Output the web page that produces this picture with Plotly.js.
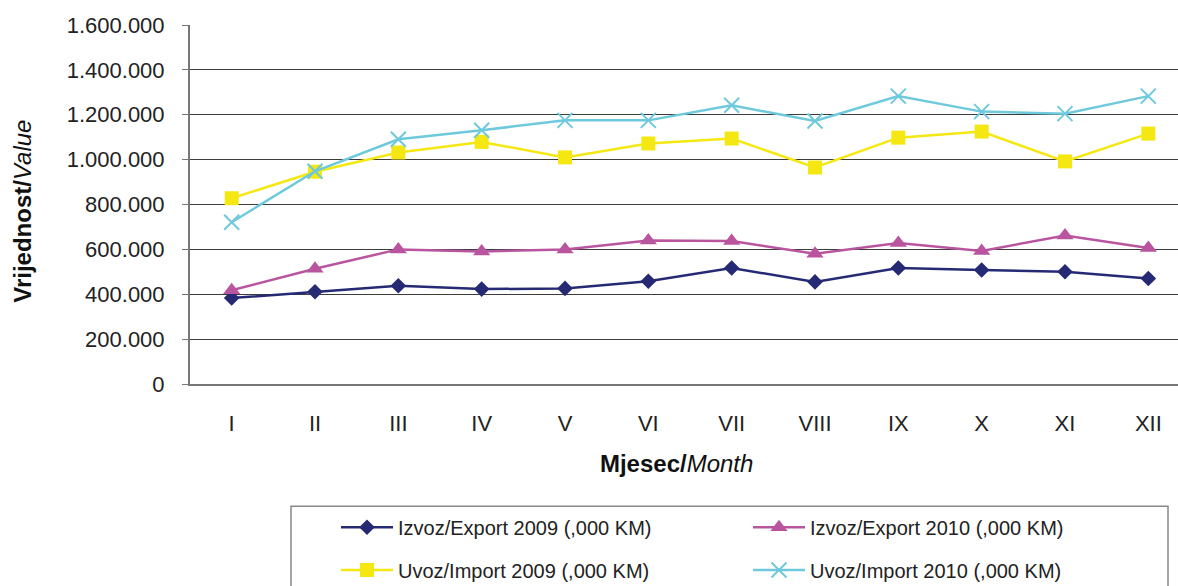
<!DOCTYPE html>
<html>
<head>
<meta charset="utf-8">
<script src="https://cdn.plot.ly/plotly-3.0.1.min.js"></script>
<style>
html, body { margin: 0; padding: 0; overflow: hidden; background: #fff; }
#chart { width: 1200px; height: 600px; }
</style>
</head>
<body>
<div id="chart"></div>
<script>
// Data (values in ,000 KM)
const months = ["I", "II", "III", "IV", "V", "VI", "VII", "VIII", "IX", "X", "XI", "XII"];
const export2009 = [383000, 411000, 438000, 423000, 426000, 458000, 517000, 455000, 517000, 508000, 500000, 470000];
const export2010 = [418000, 514000, 600000, 591000, 600000, 640000, 637000, 581000, 628000, 593000, 662000, 606000];
const import2009 = [828000, 946000, 1032000, 1079000, 1010000, 1072000, 1094000, 965000, 1098000, 1125000, 992000, 1116000];
const import2010 = [721000, 948000, 1091000, 1131000, 1175000, 1175000, 1242000, 1172000, 1283000, 1214000, 1205000, 1283000];
const seriesNames = [
  "Izvoz/Export 2009 (,000 KM)",
  "Izvoz/Export 2010 (,000 KM)",
  "Uvoz/Import 2009 (,000 KM)",
  "Uvoz/Import 2010 (,000 KM)"
];
const yTickVals = [0, 200000, 400000, 600000, 800000, 1000000, 1200000, 1400000, 1600000];

const FONT = '"Liberation Sans", Arial, sans-serif';

// layout geometry (pixels)
const W = 1200, H = 600;
const L = 190, R = 10, T = 25, B = 214;
const plotW = W - L - R, plotH = H - T - B;
const px2x = p => (p - L) / plotW;
const py2y = p => (H - B - p) / plotH;

const traces = [
  {
    x: months, y: export2009, name: seriesNames[0], type: 'scatter', mode: 'lines+markers',
    line: { color: '#262a75', width: 2.5 },
    marker: { symbol: 'diamond', size: 12, color: '#262a75' },
    legend: 'legend'
  },
  {
    x: months, y: export2010, name: seriesNames[1], type: 'scatter', mode: 'lines+markers',
    line: { color: '#b9559f', width: 2.5 },
    marker: { symbol: 'triangle-up', size: 15, color: '#b9559f' },
    legend: 'legend'
  },
  {
    x: months, y: import2009, name: seriesNames[2], type: 'scatter', mode: 'lines+markers',
    line: { color: '#f5e812', width: 2.5 },
    marker: { symbol: 'square', size: 14, color: '#f5e812' },
    legend: 'legend2'
  },
  {
    x: months, y: import2010, name: seriesNames[3], type: 'scatter', mode: 'lines+markers',
    line: { color: '#6ec9dc', width: 2.5 },
    marker: { symbol: 'x-thin', size: 15, color: '#6ec9dc', line: { color: '#6ec9dc', width: 2 } },
    legend: 'legend2'
  }
];

const legendCommon = {
  orientation: 'h',
  xanchor: 'left',
  yanchor: 'middle',
  x: px2x(336),
  font: { family: FONT, size: 20, color: '#222' },
  bgcolor: 'rgba(0,0,0,0)',
  borderwidth: 0,
  itemwidth: 52,
  entrywidth: 345,
  itemclick: false,
  itemdoubleclick: false
};

const layout = {
  width: W, height: H,
  margin: { l: L, r: R, t: T, b: B, pad: 0 },
  paper_bgcolor: '#fff',
  plot_bgcolor: '#fff',
  separators: ',.',
  font: { family: FONT, color: '#222' },
  showlegend: true,
  xaxis: {
    type: 'category',
    range: [-0.5, 11.5],
    showgrid: false,
    showline: true,
    linecolor: '#777',
    linewidth: 2,
    ticks: '',
    ticklabelstandoff: 19,
    tickfont: { family: FONT, size: 22, color: '#222' },
    title: { text: '<b>Mjesec/</b><i>Month</i>&nbsp;&nbsp;&nbsp;&nbsp;', font: { family: FONT, size: 24, color: '#111' }, standoff: 20 },
    fixedrange: true
  },
  yaxis: {
    range: [0, 1600000],
    tickvals: yTickVals,
    tickformat: ',d',
    showgrid: true,
    gridcolor: '#3c3c3c',
    gridwidth: 1,
    zeroline: false,
    showline: true,
    linecolor: '#777',
    linewidth: 2,
    ticks: 'outside',
    ticklen: 6,
    tickcolor: '#777',
    tickwidth: 1,
    ticklabelstandoff: 13,
    tickfont: { family: FONT, size: 22, color: '#222' },
    title: { text: '<b>Vrijednost/</b><i>Value</i>&nbsp;&nbsp;', font: { family: FONT, size: 24, color: '#111' }, standoff: 28 },
    fixedrange: true
  },
  legend: Object.assign({}, legendCommon, { y: py2y(530) }),
  legend2: Object.assign({}, legendCommon, { y: py2y(573) }),
  shapes: [
    {
      type: 'rect', xref: 'paper', yref: 'paper',
      x0: px2x(291), x1: px2x(1168), y0: py2y(509), y1: py2y(640),
      line: { color: '#888', width: 1.5 }, fillcolor: 'rgba(0,0,0,0)', layer: 'below'
    }
  ]
};

Plotly.newPlot('chart', traces, layout, { displayModeBar: false, staticPlot: true });
</script>
</body>
</html>
